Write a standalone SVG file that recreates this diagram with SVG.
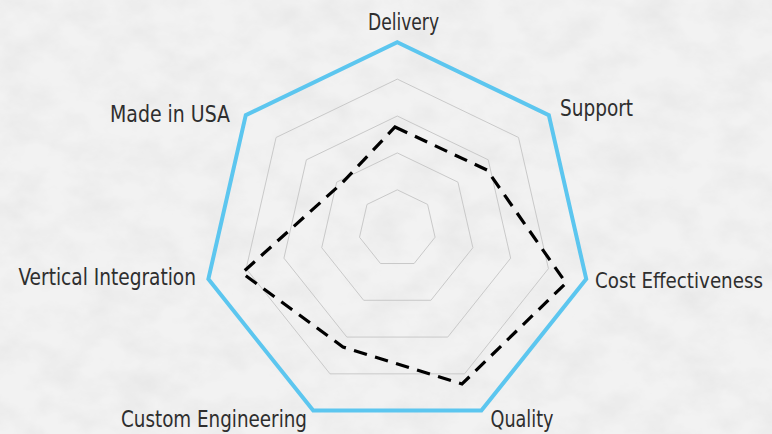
<svg xmlns="http://www.w3.org/2000/svg" width="772" height="434" viewBox="0 0 772 434">
  <defs>
    <filter id="paper" x="0" y="0" width="100%" height="100%" filterUnits="userSpaceOnUse">
      <feTurbulence type="fractalNoise" baseFrequency="0.025 0.035" numOctaves="5" seed="7" result="n"/>
      <feColorMatrix in="n" type="matrix" values="0 0 0 0 0.55  0 0 0 0 0.55  0 0 0 0 0.55  0.36 0 0 0 -0.13"/>
    </filter>
    <style>
      .ring { fill: none; stroke: #c9c9c9; stroke-width: 1; stroke-linejoin: miter; }
      .outer { fill: none; stroke: #5cc6ef; stroke-width: 4; stroke-linejoin: miter; }
      .data { fill: none; stroke: #000; stroke-width: 3.2; stroke-dasharray: 13.5 8.5; stroke-linejoin: miter; }
      .lbl { font-family: "Liberation Sans Narrow", "DejaVu Sans Condensed", "Roboto", "Liberation Sans", sans-serif; font-size: 23px; fill: #2e2e2e; }
    </style>
  </defs>

  <g id="background">
    <rect x="0" y="0" width="772" height="434" fill="#f2f2f2"/>
    <rect x="0" y="0" width="772" height="434" fill="#000" filter="url(#paper)"/>
  </g>

  <g id="grid">
    <polygon class="ring" points="397.3,189.84 427.6,204.43 435.09,237.22 414.12,263.52 380.48,263.52 359.51,237.22 367.0,204.43"/>
    <polygon class="ring" points="397.3,152.93 457.91,182.12 472.88,247.70 430.93,300.29 363.67,300.29 321.72,247.70 336.69,182.12"/>
    <polygon class="ring" points="397.3,116.02 488.21,159.80 510.67,258.17 447.75,337.07 346.85,337.07 283.93,258.17 306.39,159.80"/>
    <polygon class="ring" points="397.3,79.11 518.51,137.48 548.45,268.65 464.57,373.84 330.03,373.84 246.15,268.65 276.09,137.48"/>
    <polygon class="outer" points="397.3,42.2 548.82,115.17 586.24,279.12 481.39,410.61 313.21,410.61 208.36,279.12 245.78,115.17"/>
  </g>

  <g id="connectors">
    <polygon class="data" points="395,127 487,170 566,283 462,384 343,347 242,273 342,183"/>
  </g>

  <g id="delivery"><text class="lbl" x="368" y="30" textLength="71" lengthAdjust="spacingAndGlyphs">Delivery</text></g>
  <g id="support"><text class="lbl" x="560" y="116" textLength="73" lengthAdjust="spacingAndGlyphs">Support</text></g>
  <g id="cost-effectiveness"><text class="lbl" x="595" y="288" style="font-size:21.5px" textLength="168" lengthAdjust="spacingAndGlyphs">Cost Effectiveness</text></g>
  <g id="quality"><text class="lbl" x="490.5" y="427" textLength="63" lengthAdjust="spacingAndGlyphs">Quality</text></g>
  <g id="custom-engineering"><text class="lbl" x="121" y="427" textLength="186" lengthAdjust="spacingAndGlyphs">Custom Engineering</text></g>
  <g id="vertical-integration"><text class="lbl" x="18.5" y="284.5" textLength="177.5" lengthAdjust="spacingAndGlyphs">Vertical Integration</text></g>
  <g id="made-in-usa"><text class="lbl" x="110" y="122" textLength="120" lengthAdjust="spacingAndGlyphs">Made in USA</text></g>
</svg>
